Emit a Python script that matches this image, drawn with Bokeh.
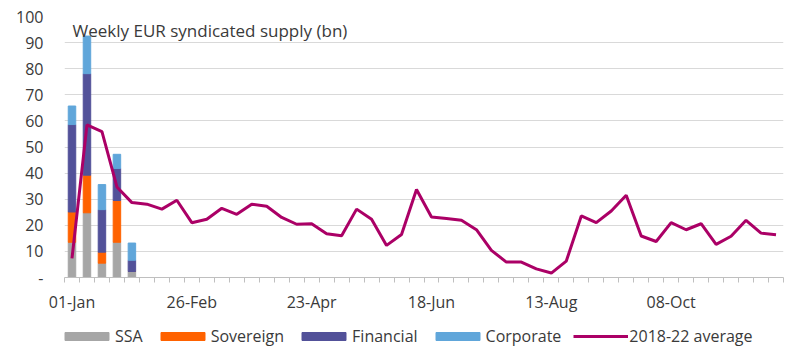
from bokeh.plotting import figure
from bokeh.layouts import column
from bokeh.models import Range1d, FixedTicker, ColumnDataSource, Label, Legend, LegendItem
from bokeh.embed import file_html
from bokeh.resources import INLINE

# ---- data ----
bar_weeks = [0, 1, 2, 3, 4]
ssa = [13.5, 24.8, 5.5, 13.5, 2.3]
sovereign = [11.6, 14.4, 4.2, 16.0, 0.0]
financial = [33.5, 38.9, 16.3, 12.3, 4.3]
corporate = [7.1, 14.4, 9.6, 5.4, 6.6]

avg_2018_22 = [7.3, 58.5, 55.9, 34.7, 28.7, 28.1, 26.2, 29.6, 21.0, 22.3,
               26.5, 24.2, 28.1, 27.3, 23.0, 20.4, 20.6, 16.8, 16.0, 26.2,
               22.3, 12.3, 16.5, 33.7, 23.2, 22.6, 21.9, 18.3, 10.4, 5.9,
               5.9, 3.3, 1.7, 6.3, 23.6, 21.0, 25.5, 31.5, 15.9, 13.8,
               21.0, 18.3, 20.6, 12.7, 15.8, 21.9, 17.0, 16.4]

tick_weeks = [0, 8, 16, 24, 32, 40]
tick_labels = ["01-Jan", "26-Feb", "23-Apr", "18-Jun", "13-Aug", "08-Oct"]
y_ticks = [0, 10, 20, 30, 40, 50, 60, 70, 80, 90, 100]

series_names = ["SSA", "Sovereign", "Financial", "Corporate"]
series_colors = ["#A6A6A6", "#FF6200", "#525199", "#60A6DA"]
line_name = "2018-22 average"
line_color = "#AB0066"

FONT = "Open Sans"
TXT = "#3a3a3a"

n_weeks = len(avg_2018_22)

bar_src = ColumnDataSource(dict(
    x=[w + 0.5 for w in bar_weeks],
    SSA=ssa, Sovereign=sovereign, Financial=financial, Corporate=corporate,
))
line_src = ColumnDataSource(dict(
    x=[i + 0.5 for i in range(n_weeks)], y=avg_2018_22,
))

# ---- main chart ----
p = figure(width=800, height=320, output_backend="svg", toolbar_location=None,
           x_range=Range1d(0, n_weeks), y_range=Range1d(0, 100),
           min_border_left=64, min_border_right=17, min_border_top=16,
           min_border_bottom=43)
p.outline_line_color = None
p.background_fill_color = "white"

p.vbar_stack(series_names, x="x", width=0.5, source=bar_src, color=series_colors)
p.line("x", "y", source=line_src, line_color=line_color, line_width=3)

# y axis
p.yaxis.ticker = FixedTicker(ticks=y_ticks)
p.yaxis.major_label_overrides = {0: "-"}
p.yaxis.axis_line_color = None
p.yaxis.major_tick_line_color = None
p.yaxis.minor_tick_line_color = None
p.yaxis.major_tick_out = 0
p.yaxis.major_tick_in = 0
p.yaxis.minor_tick_out = 0
p.yaxis.major_label_standoff = 21
p.yaxis.major_label_text_font = FONT
p.yaxis.major_label_text_font_size = "16px"
p.yaxis.major_label_text_color = TXT

# x axis
p.xaxis.ticker = FixedTicker(ticks=[w + 0.5 for w in tick_weeks],
                             minor_ticks=list(range(n_weeks + 1)))
p.xaxis.major_label_overrides = {w + 0.5: lab for w, lab in zip(tick_weeks, tick_labels)}
p.xaxis.axis_line_color = "#BFBFBF"
p.xaxis.major_tick_line_color = None
p.xaxis.major_tick_out = 0
p.xaxis.major_tick_in = 0
p.xaxis.minor_tick_line_color = "#BFBFBF"
p.xaxis.minor_tick_in = 0
p.xaxis.minor_tick_out = 5
p.xaxis.major_label_standoff = 8
p.xaxis.major_label_text_font = FONT
p.xaxis.major_label_text_font_size = "16px"
p.xaxis.major_label_text_color = TXT

p.xgrid.grid_line_color = None
p.ygrid.grid_line_color = "#D9D9D9"
p.ygrid.ticker = FixedTicker(ticks=y_ticks[1:])

title = Label(x=0, y=100, x_offset=8, y_offset=-2, text="Weekly EUR syndicated supply (bn)",
              text_baseline="top", text_font=FONT, text_font_size="17px", text_color=TXT)
p.add_layout(title)

# ---- legend strip (its glyphs share the chart's data but sit outside this strip's view) ----
pl = figure(width=800, height=39, output_backend="svg", toolbar_location=None,
            x_range=Range1d(1000, 1001), y_range=Range1d(1000, 1001),
            x_axis_location=None, y_axis_location=None,
            min_border_left=64, min_border_right=17, min_border_top=0, min_border_bottom=0)
pl.outline_line_color = None
pl.xgrid.grid_line_color = None
pl.ygrid.grid_line_color = None

items = []
for n, c in zip(series_names, series_colors):
    r = pl.vbar(x="x", top=n, width=0.5, color=c, source=bar_src)
    items.append(LegendItem(label=n, renderers=[r]))
rl = pl.line("x", "y", source=line_src, line_color=line_color, line_width=3)
items.append(LegendItem(label=line_name, renderers=[rl]))

lg = Legend(items=items, orientation="horizontal", location=(-5, 12),
            border_line_color=None, background_fill_alpha=0, padding=0, margin=0,
            glyph_width=55, glyph_height=10, label_standoff=1, spacing=12,
            label_text_font=FONT, label_text_font_size="16px", label_text_color=TXT)
pl.add_layout(lg)

open("out.html", "w").write(file_html(column(p, pl, spacing=0), INLINE))
